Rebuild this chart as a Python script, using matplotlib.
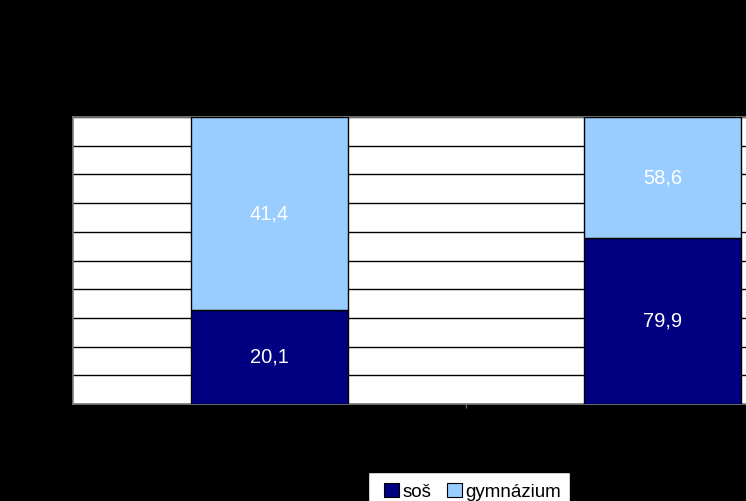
import numpy as np
import matplotlib
matplotlib.use('agg')
import matplotlib.pyplot as plt
from matplotlib.patches import Patch, Rectangle

# Data (100% stacked columns, labels show raw values)
categories = ['', '']
series_names = ['soš', 'gymnázium']
sos = [20.1, 79.9]
gym = [41.4, 58.6]
colors = ['#000080', '#99CCFF']

plt.rcParams['font.family'] = ['Liberation Sans', 'DejaVu Sans']

W, H = 746, 501
fig = plt.figure(figsize=(W / 100, H / 100), dpi=100, facecolor='black')
# plot area runs past the right edge of the picture
ax = fig.add_axes([73 / W, (H - 404) / H, 786 / W, 287 / H])
ax.set_facecolor('white')

vals = np.array([sos, gym])
totals = vals.sum(axis=0)
shares = vals / totals * 100
x = np.arange(len(categories))
bottom = np.zeros(len(categories))
for i, name in enumerate(series_names):
    ax.bar(x, shares[i], 0.4, bottom=bottom, color=colors[i],
           edgecolor='black', linewidth=1, zorder=3)
    for xi, b, s, v in zip(x, bottom, shares[i], vals[i]):
        ax.text(xi, b + s / 2, '{:.1f}'.format(v).replace('.', ','),
                ha='center', va='center', color='white', fontsize=14.5,
                zorder=4)
    bottom += shares[i]

ax.set_xlim(-0.5, 1.5)
ax.set_ylim(0, 100)
ax.set_yticks(np.arange(0, 101, 10))
ax.yaxis.grid(True, color='black', linewidth=1, zorder=1)
ax.set_yticklabels([])
ax.tick_params(axis='y', length=0)
ax.set_xticks([0.5])
ax.set_xticklabels([])
ax.tick_params(axis='x', length=3, color='0.4', width=1)
for s in ax.spines.values():
    s.set_color('0.5')
    s.set_linewidth(1.2)

# legend box, cut off by the bottom edge
fig.patches.append(Rectangle((368 / W, -0.02), 202 / W, (H - 472) / H + 0.02,
                             transform=fig.transFigure, facecolor='white',
                             edgecolor='black', linewidth=1, zorder=0))
handles = [Patch(facecolor=c, edgecolor='black', linewidth=0.8) for c in colors]
leg = fig.legend(handles, series_names, loc='upper left',
                 bbox_to_anchor=(384 / W, 1 - 483 / H), ncol=2,
                 frameon=False, fontsize=13.5,
                 handlelength=0.8, handleheight=0.8, handletextpad=0.2,
                 columnspacing=0.8, borderpad=0, borderaxespad=0)
leg.set_zorder(5)

fig.savefig('out.png', dpi=100, facecolor='black')
